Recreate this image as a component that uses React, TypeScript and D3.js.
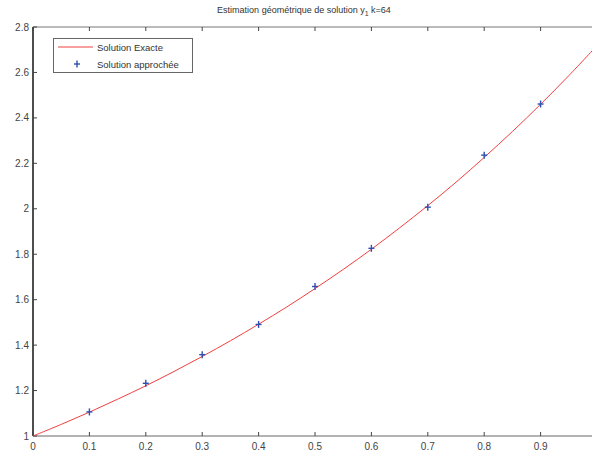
import React from "react";
import * as d3 from "d3";

// Exact solution y1(x), sampled every 0.05
const exactX = [0, 0.05, 0.1, 0.15, 0.2, 0.25, 0.3, 0.35, 0.4, 0.45, 0.5, 0.55, 0.6, 0.65, 0.7, 0.75, 0.8, 0.85, 0.9, 0.95, 1.0];
const exactY = [1.0, 1.051, 1.105, 1.162, 1.221, 1.284, 1.35, 1.419, 1.492, 1.568, 1.649, 1.733, 1.822, 1.916, 2.014, 2.117, 2.226, 2.34, 2.46, 2.586, 2.718];

// Approximate (geometric) solution, k = 64
const approxX = [0.1, 0.2, 0.3, 0.4, 0.5, 0.6, 0.7, 0.8, 0.9];
const approxY = [1.106, 1.232, 1.358, 1.491, 1.658, 1.826, 2.007, 2.236, 2.461];

const xTicks = [0, 0.1, 0.2, 0.3, 0.4, 0.5, 0.6, 0.7, 0.8, 0.9];
const yTicks = [1, 1.2, 1.4, 1.6, 1.8, 2, 2.2, 2.4, 2.6, 2.8];

const W = 592;
const H = 454;
const left = 33;
const right = 597;
const top = 27;
const bottom = 436;

export default function App() {
  const x = d3.scaleLinear().domain([0, 1]).range([left, right]);
  const y = d3.scaleLinear().domain([1, 2.8]).range([bottom, top]);

  const line = d3
    .line<number>()
    .x((_, i) => x(exactX[i]))
    .y((d) => y(d))
    .curve(d3.curveCatmullRom);

  const font = "'Liberation Sans', Arial, sans-serif";
  const fmt = (v: number) => (v === 0 ? "0" : String(v));

  return (
    <svg
      width={W}
      height={H}
      style={{ position: "absolute", left: 0, top: 0, background: "#fff" }}
      fontFamily={font}
    >
      <defs>
        <clipPath id="plotArea">
          <rect x={left} y={top} width={right - left} height={bottom - top} />
        </clipPath>
      </defs>

      {/* title */}
      <text x={304} y={13} textAnchor="middle" fontSize={9} fill="#333">
        Estimation géométrique de solution y
        <tspan fontSize={7} dy={3}>1</tspan>
        <tspan dy={-3}>{"  k=64"}</tspan>
      </text>

      {/* axes box */}
      <line x1={left} x2={right} y1={top} y2={top} stroke="#777" strokeWidth={1} />
      <line x1={left} x2={right} y1={bottom} y2={bottom} stroke="#666" strokeWidth={1} />
      <line x1={left} x2={left} y1={top} y2={bottom} stroke="#222" strokeWidth={1.6} />

      {/* x ticks */}
      {xTicks.map((t) => (
        <g key={"x" + t}>
          <line x1={x(t)} x2={x(t)} y1={bottom} y2={bottom - 4} stroke="#444" />
          <line x1={x(t)} x2={x(t)} y1={top} y2={top + 4} stroke="#444" />
          <text x={x(t)} y={bottom + 14} textAnchor="middle" fontSize={10} fill="#444">
            {fmt(t)}
          </text>
        </g>
      ))}

      {/* y ticks */}
      {yTicks.map((t) => (
        <g key={"y" + t}>
          <line x1={left} x2={left + 4} y1={y(t)} y2={y(t)} stroke="#444" />
          <text x={left - 4} y={y(t) + 3.5} textAnchor="end" fontSize={10} fill="#444">
            {fmt(t)}
          </text>
        </g>
      ))}

      {/* exact solution */}
      <path
        d={line(exactY) ?? ""}
        fill="none"
        stroke="#f04040"
        strokeWidth={1}
        clipPath="url(#plotArea)"
      />

      {/* approximate solution markers */}
      {approxY.map((v, i) => {
        const cx = x(approxX[i]);
        const cy = y(v);
        return (
          <g key={"p" + i} stroke="#3050b0" strokeWidth={1.4}>
            <line x1={cx - 3} x2={cx + 3} y1={cy} y2={cy} />
            <line x1={cx} x2={cx} y1={cy - 3.5} y2={cy + 3.5} />
          </g>
        );
      })}

      {/* legend */}
      <rect x={53.5} y={38.5} width={139} height={34} fill="#fff" stroke="#666" strokeWidth={1} />
      <line x1={58} x2={93} y1={47} y2={47} stroke="#f04040" strokeWidth={1} />
      <text x={97} y={50.5} fontSize={9.5} fill="#333">
        Solution Exacte
      </text>
      <g stroke="#3050b0" strokeWidth={1.4}>
        <line x1={74} x2={80} y1={64} y2={64} />
        <line x1={77} x2={77} y1={60.5} y2={67.5} />
      </g>
      <text x={97} y={67.5} fontSize={9.5} fill="#333">
        Solution approchée
      </text>
    </svg>
  );
}
